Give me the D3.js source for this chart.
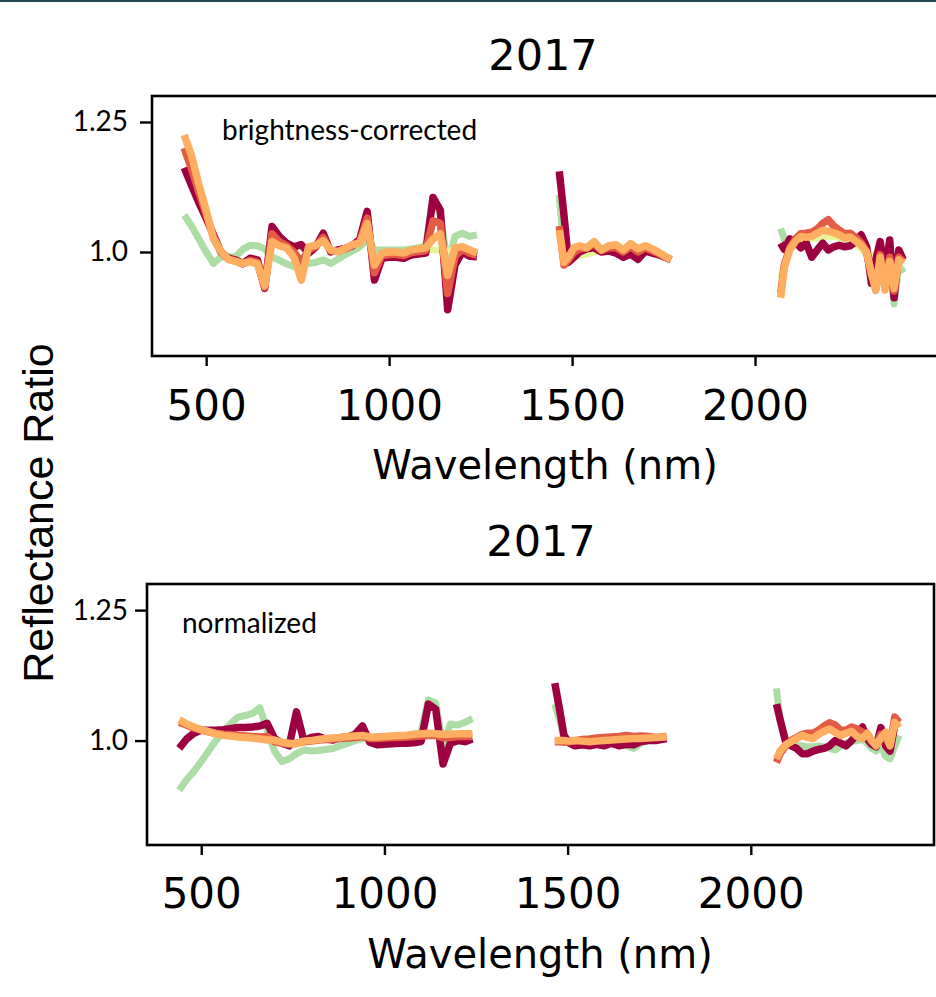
<!DOCTYPE html>
<html><head><meta charset="utf-8">
<script src="https://cdn.jsdelivr.net/npm/d3@7"></script>
<style>body{margin:0;background:#fff}</style></head>
<body>
<svg id="chart" width="936" height="997"></svg>
<script>
// ---------- DATA ----------
const segWavelengths = [
  [440,460,480,500,520,540,560,580,600,620,640,660,680,700,720,740,760,780,800,820,840,860,880,900,920,940,960,980,1000,1020,1040,1060,1080,1100,1120,1140,1160,1180,1200,1220,1240],
  [1465,1478,1490,1505,1520,1540,1560,1580,1600,1620,1640,1660,1680,1700,1720,1740,1770],
  [2070,2080,2095,2110,2125,2140,2155,2170,2185,2200,2215,2230,2245,2260,2275,2290,2305,2318,2330,2342,2355,2368,2380,2393,2405]
];
const xTicks = [500,1000,1500,2000];
const yTicks = [1.0,1.25];
const yTickLabels = ["1.0","1.25"];
const panelTitles = ["2017","2017"];
const panelNotes = ["brightness-corrected","normalized"];
const xLabel = "Wavelength (nm)";
const yLabel = "Reflectance Ratio";

// brightness-corrected (top)
const topGreen = [
  [1.071,1.05,1.025,1.0,0.978,0.99,0.992,0.99,1.005,1.013,1.012,1.006,0.991,0.984,0.977,0.972,0.985,0.978,0.98,0.985,0.978,0.986,0.995,1.002,1.01,1.023,1.004,1.004,1.004,1.004,1.004,1.006,1.008,1.012,1.105,1.07,0.975,1.03,1.036,1.03,1.033],
  [1.11,1.0,0.99,1.0,1.005,1.004,1.01,1.0,1.004,1.004,0.998,1.004,0.985,1.0,1.0,0.995,0.985],
  [1.045,1.025,1.005,1.015,1.025,1.025,1.028,1.03,1.035,1.035,1.032,1.03,1.025,1.025,1.018,1.01,0.995,0.955,0.925,0.985,0.93,0.975,0.9,0.975,0.96]
];
const topMaroon = [
  [1.162,1.128,1.095,1.065,1.033,1.0,0.988,0.985,0.978,0.988,0.985,0.93,1.049,1.03,1.017,1.01,1.014,0.998,1.01,1.036,1.0,1.004,1.007,1.012,1.025,1.078,0.946,0.988,0.99,0.99,0.988,0.994,0.996,0.998,1.105,1.08,0.889,0.975,1.0,0.992,0.991],
  [1.155,1.07,0.98,0.99,1.0,1.006,1.008,1.0,1.002,0.998,0.99,0.996,0.986,1.002,0.998,0.994,0.985],
  [1.017,1.005,1.025,1.02,1.008,1.017,0.99,1.004,1.017,1.004,1.01,1.013,1.01,1.012,1.02,1.033,1.01,0.94,0.985,1.02,0.958,1.023,0.912,1.004,0.985]
];
const topRed = [
  [1.2,1.16,1.115,1.072,1.03,1.0,0.987,0.983,0.977,0.984,0.98,0.932,1.035,1.02,1.012,1.0,0.98,1.004,1.011,1.028,1.002,1.002,1.006,1.013,1.02,1.065,0.96,0.993,0.995,0.995,0.993,0.999,1.001,1.003,1.06,1.055,0.92,0.992,1.005,0.998,0.994],
  [1.05,0.975,0.985,1.0,1.006,1.008,1.016,1.003,1.008,1.008,1.0,1.01,1.0,1.008,1.002,0.996,0.985],
  [0.92,0.975,1.008,1.025,1.035,1.036,1.038,1.044,1.055,1.062,1.05,1.042,1.035,1.036,1.028,1.018,1.0,0.955,0.93,0.995,0.93,0.99,0.925,0.99,0.982]
];
const topLightOrange = [
  [1.225,1.185,1.13,1.08,1.025,1.002,0.986,0.982,0.978,0.981,0.977,0.935,1.02,1.012,1.008,0.99,0.946,1.01,1.013,1.022,1.004,1.0,1.007,1.014,1.017,1.055,0.975,0.998,1.0,1.0,0.998,1.004,1.006,1.008,1.025,1.035,0.955,1.008,1.01,1.004,0.998],
  [1.042,0.98,0.99,1.008,1.012,1.008,1.02,1.004,1.012,1.014,1.004,1.016,1.006,1.012,1.006,0.998,0.985],
  [0.912,0.97,1.005,1.02,1.03,1.028,1.03,1.036,1.042,1.04,1.037,1.033,1.027,1.029,1.021,1.013,1.0,0.96,0.927,0.99,0.927,0.982,0.93,0.985,0.978]
];
const topYellowWl = [440,470,500,540,700,900,1100,1240,1465,1500,1600,1770,2070,2095,2150,2205,2260,2300,2405];
const topYellow = [1.19,1.15,1.07,1.0,1.01,1.01,1.005,1.0,1.03,0.99,1.005,0.985,0.95,1.01,1.025,1.03,1.025,1.0,0.975];

// normalized (bottom)
const botGreen = [
  [0.905,0.925,0.941,0.96,0.98,1.0,1.017,1.032,1.045,1.048,1.052,1.063,1.02,0.98,0.96,0.965,0.975,0.982,0.98,0.981,0.983,0.985,0.99,0.995,1.0,1.004,1.006,1.007,1.007,1.007,1.008,1.01,1.012,1.016,1.078,1.072,0.99,1.032,1.03,1.035,1.042],
  [1.07,1.04,1.005,0.998,0.997,0.998,0.996,0.998,0.997,0.998,0.995,0.99,0.985,0.995,1.0,1.002,1.005],
  [1.1,1.04,1.0,0.995,0.99,0.99,0.988,0.988,0.99,0.988,0.985,0.982,0.99,0.995,0.998,1.0,1.002,0.995,0.985,0.98,0.99,0.97,0.965,0.99,1.01]
];
const botMaroon = [
  [0.985,1.003,1.014,1.02,1.02,1.02,1.021,1.023,1.025,1.025,1.026,1.028,1.033,1.004,0.995,0.99,1.055,1.0,1.006,1.008,1.003,1.001,1.006,1.007,1.012,1.028,0.997,0.992,0.993,0.994,0.995,0.995,0.996,0.998,1.07,1.06,0.955,0.995,1.0,0.998,1.003],
  [1.11,1.06,1.01,0.995,0.99,0.992,0.99,0.993,0.99,0.995,0.99,0.993,0.992,0.998,1.0,1.0,1.004],
  [1.07,1.04,0.998,0.99,0.985,0.975,0.975,0.98,0.983,0.985,0.99,1.0,0.995,0.99,1.0,1.012,1.026,1.003,0.993,0.988,1.025,0.99,0.98,1.03,1.035]
];
const botRed = [
  [1.035,1.03,1.024,1.02,1.017,1.014,1.012,1.011,1.01,1.009,1.008,1.007,1.008,0.998,0.995,0.993,0.995,0.998,0.999,1.001,1.002,1.003,1.004,1.005,1.006,1.008,1.004,1.004,1.005,1.006,1.006,1.007,1.008,1.009,1.01,1.01,1.005,1.006,1.008,1.008,1.008],
  [0.998,0.998,0.997,0.998,1.0,1.002,1.003,1.005,1.006,1.007,1.008,1.01,1.008,1.009,1.008,1.006,1.008],
  [0.958,0.975,0.99,1.0,1.006,1.012,1.014,1.014,1.02,1.028,1.034,1.03,1.02,1.02,1.026,1.022,1.016,1.012,0.998,0.992,1.012,1.004,0.992,1.045,1.035]
];
const botLightOrange = [
  [1.04,1.032,1.026,1.021,1.017,1.013,1.01,1.009,1.007,1.006,1.005,1.003,1.001,1.001,0.997,0.995,0.994,0.999,1.0,1.002,1.004,1.005,1.006,1.008,1.009,1.01,1.007,1.007,1.008,1.009,1.01,1.01,1.012,1.013,1.014,1.013,1.012,1.012,1.013,1.013,1.013],
  [1.0,1.0,1.0,0.999,1.0,0.999,0.998,0.999,1.0,1.001,1.002,1.003,1.004,1.004,1.005,1.006,1.007],
  [0.965,0.98,0.992,0.998,1.004,1.01,1.006,1.004,1.012,1.018,1.022,1.016,1.01,1.014,1.018,1.008,1.004,1.014,1.0,0.99,1.005,1.016,0.99,1.035,1.025]
];
const botYellowWl = [440,1240,1465,1770,2070,2405];
const botYellow = [1.0,1.0,1.0,1.0,1.0,1.0];

// ---------- STYLE / LAYOUT ----------
const colors = {green:"#abdda4", yellow:"#e6f598", maroon:"#9e0142", red:"#e35a45", lightOrange:"#fdae61"};
const panels = [
  {frame:{x0:152,x1:940,y0:96,y1:356}, titleY:70, titleX:543, tickPad:24, yPad:12, labelY:479, labelX:545,
   noteX:222, noteY:140,
   series:{green:topGreen, maroon:topMaroon, red:topRed, lightOrange:topLightOrange}, yWl:topYellowWl, yv:topYellow},
  {frame:{x0:147,x1:934,y0:584,y1:845}, titleY:556, titleX:541, tickPad:23, yPad:7, labelY:968, labelX:540,
   noteX:182, noteY:633,
   series:{green:botGreen, maroon:botMaroon, red:botRed, lightOrange:botLightOrange}, yWl:botYellowWl, yv:botYellow}
];

const svg = d3.select("#chart");
svg.append("rect").attr("x",0).attr("y",0).attr("width",936).attr("height",2).attr("fill","#1d4b50");

panels.forEach((p,i)=>{
  const f = p.frame;
  const x = d3.scaleLinear().domain([352,2500]).range([f.x0, i===0 ? 938 : f.x1]);
  const y = d3.scaleLinear().domain([0.8,1.3]).range([f.y1,f.y0]);
  const g = svg.append("g");
  const line = d3.line().x(d=>x(d[0])).y(d=>y(d[1]));

  function drawSeg(pts, color, w){
    g.append("path").datum(pts).attr("d",line).attr("fill","none")
      .attr("stroke",color).attr("stroke-width",w)
      .attr("stroke-linejoin","round").attr("stroke-linecap","butt");
  }
  const order = ["green","yellow","maroon","red","lightOrange"];
  order.forEach(k=>{
    if(k==="yellow"){
      let seg=[];
      p.yWl.forEach((wl,j)=>{
        if(seg.length && wl - seg[seg.length-1][0] > 150){ drawSeg(seg, colors.yellow, 6.5); seg=[]; }
        seg.push([wl,p.yv[j]]);
      });
      if(seg.length) drawSeg(seg, colors.yellow, 6.5);
    } else {
      p.series[k].forEach((vals,s)=>{
        const pts = segWavelengths[s].map((wl,j)=>[wl,vals[j]]);
        drawSeg(pts, colors[k], k==="green"?7:7.5);
      });
    }
  });

  // frame
  svg.append("rect").attr("x",f.x0).attr("y",f.y0).attr("width",f.x1-f.x0).attr("height",f.y1-f.y0)
    .attr("fill","none").attr("stroke","#000").attr("stroke-width",2.6);

  // x axis
  const xa = svg.append("g").attr("transform",`translate(0,${f.y1})`)
    .call(d3.axisBottom(x).tickValues(xTicks).tickSize(10).tickPadding(p.tickPad).tickFormat(d3.format("d")));
  xa.select(".domain").remove();
  xa.selectAll("line").attr("stroke","#000").attr("stroke-width",2.4);
  xa.selectAll("text").attr("font-family","DejaVu Sans").attr("font-size",42).attr("fill","#000");

  // y axis
  const ya = svg.append("g").attr("transform",`translate(${f.x0},0)`)
    .call(d3.axisLeft(y).tickValues(yTicks).tickSize(12).tickPadding(p.yPad).tickFormat((d,j)=>yTickLabels[j]));
  ya.select(".domain").remove();
  ya.selectAll("line").attr("stroke","#000").attr("stroke-width",2.4);
  ya.selectAll("text").attr("font-family","Lato").attr("font-size",28).attr("fill","#000");

  // title
  svg.append("text").attr("x",p.titleX).attr("y",p.titleY).attr("text-anchor","middle")
    .attr("font-family","DejaVu Sans").attr("font-size",43).attr("fill","#000").text(panelTitles[i]);
  // x label
  svg.append("text").attr("x",p.labelX).attr("y",p.labelY).attr("text-anchor","middle")
    .attr("font-family","DejaVu Sans").attr("font-size",40).attr("fill","#000").text(xLabel);
  // annotation
  svg.append("text").attr("x",p.noteX).attr("y",p.noteY)
    .attr("font-family","Lato").attr("font-size",28).attr("fill","#000").text(panelNotes[i]);
});

// y label
svg.append("text").attr("transform","translate(53,513) rotate(-90)").attr("text-anchor","middle")
  .attr("font-family","Liberation Sans").attr("font-size",43).attr("fill","#000").text(yLabel);
</script>
</body></html>
